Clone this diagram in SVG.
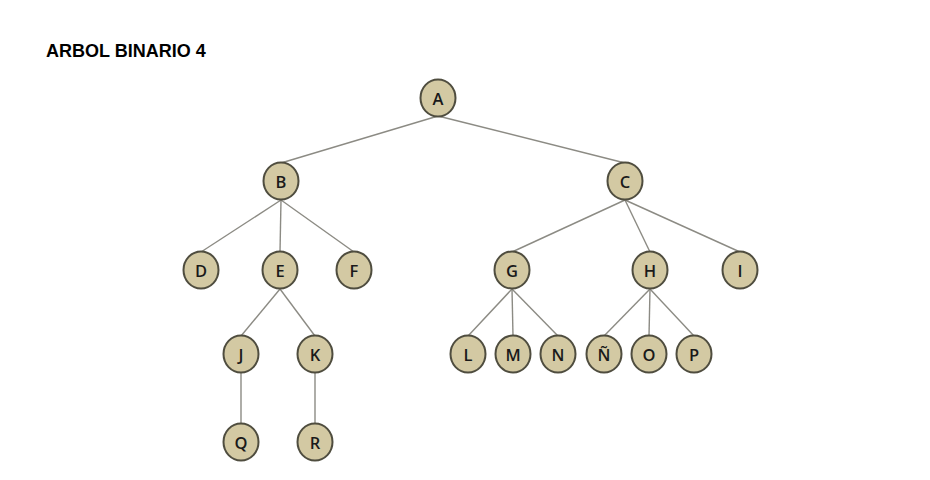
<svg xmlns="http://www.w3.org/2000/svg" width="930" height="480" viewBox="0 0 930 480">
  <style>
    .title { font-family: "Liberation Sans", Arial, sans-serif; font-weight: bold; font-size: 18px; fill: #000; }
    .node ellipse { fill: #d3c9a3; stroke: #4f4d3f; stroke-width: 2; }
    .node text { font-family: "Open Sans", "Liberation Sans", sans-serif; font-weight: 600; font-size: 16.5px; fill: #1a1a1a; text-anchor: middle; dominant-baseline: central; }
    #edges line { stroke: #8c8b84; stroke-width: 1.4; }
  </style>
  <rect width="930" height="480" fill="#ffffff"/>
  <text class="title" x="46" y="57">ARBOL BINARIO 4</text>

  <!-- edges: parent bottom to child top -->
  <g id="edges">
    <line x1="438" y1="116" x2="281" y2="163"/>
    <line x1="438" y1="116" x2="625" y2="163"/>
    <line x1="281" y1="200" x2="201" y2="252"/>
    <line x1="281" y1="200" x2="280" y2="252"/>
    <line x1="281" y1="200" x2="354" y2="252"/>
    <line x1="625" y1="200" x2="512" y2="252"/>
    <line x1="625" y1="200" x2="650" y2="252"/>
    <line x1="625" y1="200" x2="740" y2="252"/>
    <line x1="280" y1="289" x2="241" y2="336"/>
    <line x1="280" y1="289" x2="315" y2="336"/>
    <line x1="512" y1="289" x2="468" y2="336"/>
    <line x1="512" y1="289" x2="513" y2="336"/>
    <line x1="512" y1="289" x2="558" y2="336"/>
    <line x1="650" y1="289" x2="604" y2="336"/>
    <line x1="650" y1="289" x2="649" y2="336"/>
    <line x1="650" y1="289" x2="694" y2="336"/>
    <line x1="241" y1="373" x2="241" y2="424"/>
    <line x1="315" y1="373" x2="315" y2="424"/>
  </g>

  <g id="node-A" class="node"><ellipse cx="438" cy="98" rx="17.5" ry="18.5"/><text x="438" y="98">A</text></g>
  <g id="node-B" class="node"><ellipse cx="281" cy="181" rx="17.5" ry="18.5"/><text x="281" y="181">B</text></g>
  <g id="node-C" class="node"><ellipse cx="625" cy="181" rx="17.5" ry="18.5"/><text x="625" y="181">C</text></g>
  <g id="node-D" class="node"><ellipse cx="201" cy="270" rx="17.5" ry="18.5"/><text x="201" y="270">D</text></g>
  <g id="node-E" class="node"><ellipse cx="280" cy="270" rx="17.5" ry="18.5"/><text x="280" y="270">E</text></g>
  <g id="node-F" class="node"><ellipse cx="354" cy="270" rx="17.5" ry="18.5"/><text x="354" y="270">F</text></g>
  <g id="node-G" class="node"><ellipse cx="512" cy="270" rx="17.5" ry="18.5"/><text x="512" y="270">G</text></g>
  <g id="node-H" class="node"><ellipse cx="650" cy="270" rx="17.5" ry="18.5"/><text x="650" y="270">H</text></g>
  <g id="node-I" class="node"><ellipse cx="740" cy="270" rx="17.5" ry="18.5"/><text x="740" y="270">I</text></g>
  <g id="node-J" class="node"><ellipse cx="241" cy="354" rx="17.5" ry="18.5"/><text x="241" y="354">J</text></g>
  <g id="node-K" class="node"><ellipse cx="315" cy="354" rx="17.5" ry="18.5"/><text x="315" y="354">K</text></g>
  <g id="node-L" class="node"><ellipse cx="468" cy="354" rx="17.5" ry="18.5"/><text x="468" y="354">L</text></g>
  <g id="node-M" class="node"><ellipse cx="513" cy="354" rx="17.5" ry="18.5"/><text x="513" y="354">M</text></g>
  <g id="node-N" class="node"><ellipse cx="558" cy="354" rx="17.5" ry="18.5"/><text x="558" y="354">N</text></g>
  <g id="node-NN" class="node"><ellipse cx="604" cy="354" rx="17.5" ry="18.5"/><text x="604" y="354">Ñ</text></g>
  <g id="node-O" class="node"><ellipse cx="649" cy="354" rx="17.5" ry="18.5"/><text x="649" y="354">O</text></g>
  <g id="node-P" class="node"><ellipse cx="694" cy="354" rx="17.5" ry="18.5"/><text x="694" y="354">P</text></g>
  <g id="node-Q" class="node"><ellipse cx="241" cy="442" rx="17.5" ry="18.5"/><text x="241" y="442">Q</text></g>
  <g id="node-R" class="node"><ellipse cx="315" cy="442" rx="17.5" ry="18.5"/><text x="315" y="442">R</text></g>
</svg>
